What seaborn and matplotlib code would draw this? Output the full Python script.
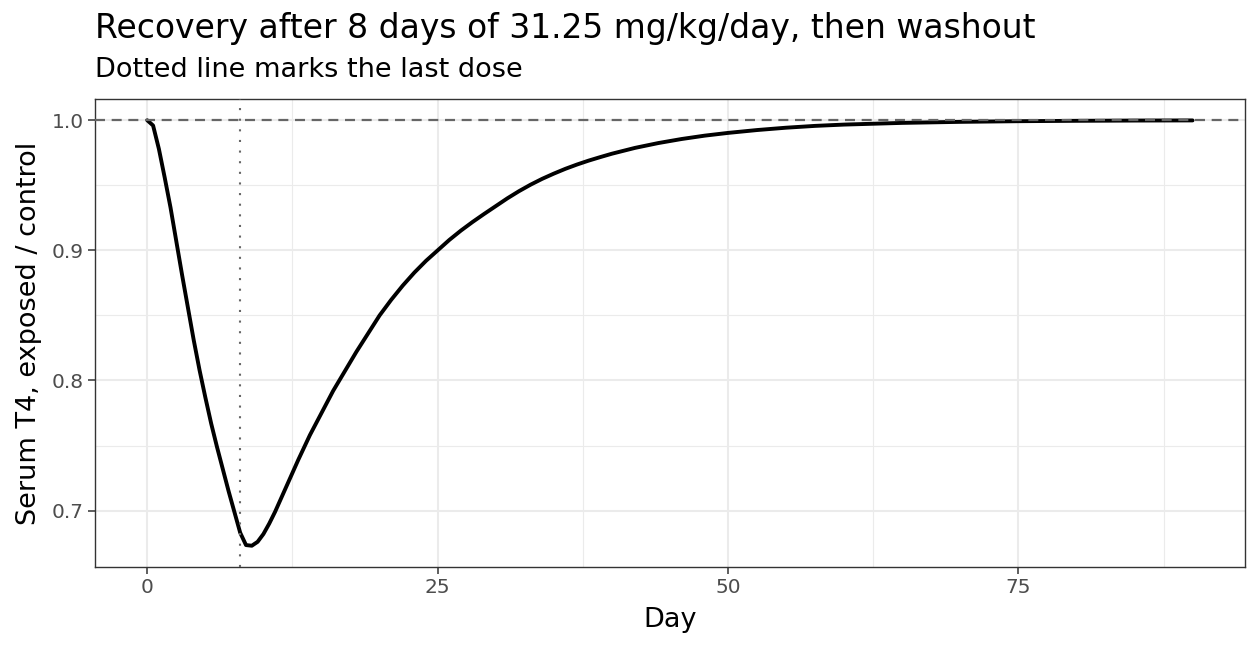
import numpy as np
import pandas as pd
import seaborn as sns
import matplotlib.pyplot as plt
from matplotlib.ticker import MultipleLocator

# Verhältnis T4 exponiert/Kontrolle
day = [0, 0.5, 1, 1.5, 2, 2.5, 3, 3.5, 4, 4.5, 5, 5.5, 6, 6.5, 7, 7.5, 8, 8.5, 9, 9.5,
       10, 10.5, 11, 12, 13, 14, 15, 16, 17, 18, 19, 20, 21, 22, 23, 24, 25,
       26, 27, 28, 29, 30, 31, 32, 33, 34, 35, 36, 37, 38, 39, 40, 42, 44, 46, 48,
       50, 52.5, 55, 57.5, 60, 65, 70, 75, 80, 85, 90]
ratio = [1.000, 0.996, 0.978, 0.956, 0.933, 0.907, 0.881, 0.856, 0.831, 0.808,
         0.787, 0.767, 0.749, 0.732, 0.715, 0.699, 0.683, 0.6735, 0.673, 0.676,
         0.682, 0.690, 0.699, 0.719, 0.739, 0.758, 0.775, 0.792, 0.807, 0.822,
         0.836, 0.850, 0.862, 0.873, 0.883, 0.892, 0.900,
         0.908, 0.9152, 0.9218, 0.928, 0.934, 0.940, 0.9455, 0.9505, 0.955, 0.959,
         0.9627, 0.966, 0.969, 0.9717, 0.9743, 0.9788, 0.9825, 0.9856, 0.9882,
         0.9903, 0.9925, 0.9943, 0.9957, 0.9967, 0.998, 0.9988, 0.9993, 0.9996, 0.9998, 0.9999]
last_dose = 8
control = 1.0

df = pd.DataFrame({'Day': day, 'ratio': ratio})

sns.set_theme(style='white')
plt.rcParams['font.family'] = ['DejaVu Sans']

fig = plt.figure(figsize=(12.6, 6.48), dpi=100)
ax = fig.add_axes([0.0754, 0.125, 0.9126, 0.7222])

ax.axhline(control, color='#666666', lw=1.6, ls=(0, (4.5, 3)), zorder=3)
ax.axvline(last_dose, color='#666666', lw=1.5, ls=(0, (1, 4.1)), zorder=3)
sns.lineplot(data=df, x='Day', y='ratio', color='black', lw=2.8, ax=ax, zorder=2)

# ggplot-artige Achsenausdehnung (5 %)
xr = max(day) - min(day)
ax.set_xlim(min(day) - 0.05 * xr, max(day) + 0.05 * xr)
lo, hi = min(ratio), max(max(ratio), control)
yr = hi - lo
ax.set_ylim(lo - 0.05 * yr, hi + 0.05 * yr)

ax.xaxis.set_major_locator(MultipleLocator(25))
ax.xaxis.set_minor_locator(MultipleLocator(12.5))
ax.yaxis.set_major_locator(MultipleLocator(0.1))
ax.yaxis.set_minor_locator(MultipleLocator(0.05))
ax.yaxis.set_major_formatter(plt.FuncFormatter(lambda v, p: f'{v:.1f}'))

ax.grid(which='major', color='#EBEBEB', lw=1.5)
ax.grid(which='minor', color='#EBEBEB', lw=0.8)
ax.set_axisbelow(True)
for s in ax.spines.values():
    s.set_color('#333333')
    s.set_linewidth(1.0)

ax.tick_params(which='major', length=5, width=1.1, color='#333333',
               labelsize=14.5, labelcolor='#4D4D4D', pad=3, bottom=True, left=True)
ax.tick_params(which='minor', length=0)

ax.set_xlabel('Day', fontsize=19.5, color='black', labelpad=7)
ax.set_ylabel('Serum T4, exposed / control', fontsize=19.5, color='black', labelpad=7)

fig.text(0.0754, 0.941, 'Recovery after 8 days of 31.25 mg/kg/day, then washout',
         fontsize=23.8, color='black', ha='left', va='baseline')
fig.text(0.0754, 0.881, 'Dotted line marks the last dose',
         fontsize=19.5, color='black', ha='left', va='baseline')

fig.savefig('out.png', dpi=100)
